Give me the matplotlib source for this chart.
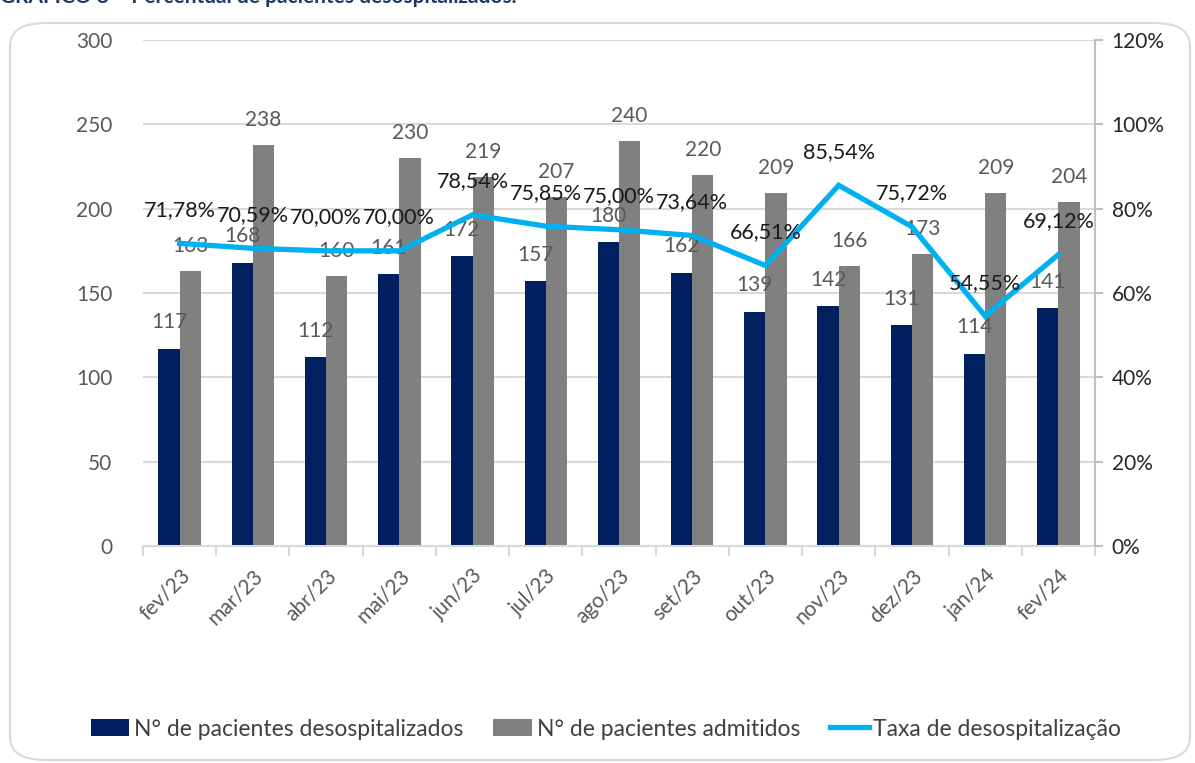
import numpy as np
import matplotlib
matplotlib.use("Agg")
import matplotlib.pyplot as plt
from matplotlib.patches import FancyBboxPatch
from matplotlib.ticker import FuncFormatter, FixedLocator

plt.rcParams['font.family'] = ['Lato', 'DejaVu Sans']

meses = ['fev/23', 'mar/23', 'abr/23', 'mai/23', 'jun/23', 'jul/23', 'ago/23',
         'set/23', 'out/23', 'nov/23', 'dez/23', 'jan/24', 'fev/24']
desospitalizados = [117, 168, 112, 161, 172, 157, 180, 162, 139, 142, 131, 114, 141]
admitidos = [163, 238, 160, 230, 219, 207, 240, 220, 209, 166, 173, 209, 204]
taxa = [71.78, 70.59, 70.00, 70.00, 78.54, 75.85, 75.00, 73.64, 66.51, 85.54, 75.72, 54.55, 69.12]

NAVY = '#002060'
GRAY = '#808080'
BLUE = '#00B0F0'

W, H = 1195, 763
fig = plt.figure(figsize=(W / 100, H / 100), dpi=100)

# moldura arredondada
box = FancyBboxPatch((10 / W, 3 / H), 1180 / W, 737 / H,
                     boxstyle="round,pad=0,rounding_size=0.03",
                     transform=fig.transFigure, facecolor='white',
                     edgecolor='#d9d9d9', linewidth=1.5, zorder=-10)
fig.patches.append(box)

# titulo (cortado no topo, como na imagem)
fig.text(0.0, 1 - 3 / H, 'GRÁFICO 8 – Percentual de pacientes desospitalizados.',
         fontsize=15, fontweight='bold', color='#1F3864', va='baseline', ha='left')

ax = fig.add_axes([143 / W, 1 - 546 / H, (1095 - 143) / W, (546 - 40) / H])
ax.set_facecolor('none')
x = np.arange(len(meses))
w = 0.29

b1 = ax.bar(x - w / 2, desospitalizados, w, color=NAVY, label='N° de pacientes desospitalizados', zorder=2)
b2 = ax.bar(x + w / 2, admitidos, w, color=GRAY, label='N° de pacientes admitidos', zorder=2)

for rect, v in zip(b1, desospitalizados):
    ax.annotate(str(v), (rect.get_x() + rect.get_width() / 2, v), xytext=(0, 19),
                textcoords='offset points', ha='center', va='center',
                fontsize=15, color='#595959', zorder=5)
for rect, v in zip(b2, admitidos):
    ax.annotate(str(v), (rect.get_x() + rect.get_width() / 2, v), xytext=(0, 18),
                textcoords='offset points', ha='center', va='center',
                fontsize=15, color='#595959', zorder=5)

ax.set_xlim(-0.5, len(meses) - 0.5)
ax.set_ylim(0, 300)
ax.set_yticks(np.arange(0, 301, 50))
ax.grid(axis='y', color='#d9d9d9', linewidth=1.5, zorder=0)
ax.set_axisbelow(True)
for s in ['top', 'left', 'right']:
    ax.spines[s].set_visible(False)
ax.spines['bottom'].set_color('#d9d9d9')
ax.spines['bottom'].set_linewidth(1.5)
ax.tick_params(axis='y', length=0, labelsize=15, labelcolor='#595959', pad=22)
ax.set_xticks(x)
ax.set_xticklabels(meses, rotation=45, ha='right', rotation_mode='anchor')
ax.tick_params(axis='x', which='major', length=0, labelsize=15, labelcolor='#595959', pad=14)
ax.xaxis.set_minor_locator(FixedLocator(np.arange(-0.5, len(meses), 1)))
ax.tick_params(axis='x', which='minor', length=7, color='#d9d9d9', width=1.5)

ax2 = ax.twinx()
ln, = ax2.plot(x, np.array(taxa) / 100, color=BLUE, linewidth=3.8, solid_joinstyle='miter',
               label='Taxa de desospitalização', zorder=4)
for xi, v in zip(x, taxa):
    ax2.annotate(f'{v:.2f}%'.replace('.', ','), (xi, v / 100), xytext=(0, 24),
                 textcoords='offset points', ha='center', va='center',
                 fontsize=15.5, color='#1a1a1a', zorder=6)
ax2.set_ylim(0, 1.2)
ax2.set_yticks(np.arange(0, 1.21, 0.2))
ax2.yaxis.set_major_formatter(FuncFormatter(lambda v, p: f'{v * 100:.0f}%'))
for s in ['top', 'left', 'bottom']:
    ax2.spines[s].set_visible(False)
ax2.spines['right'].set_color('#bfbfbf')
ax2.spines['right'].set_linewidth(1.5)
ax2.tick_params(axis='y', length=6, color='#bfbfbf', width=1.5, labelsize=15,
                labelcolor='#262626', pad=6)

handles = [b1, b2, ln]
fig.legend(handles, [h.get_label() for h in handles], loc='center',
           bbox_to_anchor=(606 / W, 1 - 729 / H), ncol=3, frameon=False,
           fontsize=16.5, labelcolor='#404040', handlelength=1.7, handleheight=0.8,
           handletextpad=0.2, columnspacing=1.3)

fig.savefig('out.png', dpi=100)
